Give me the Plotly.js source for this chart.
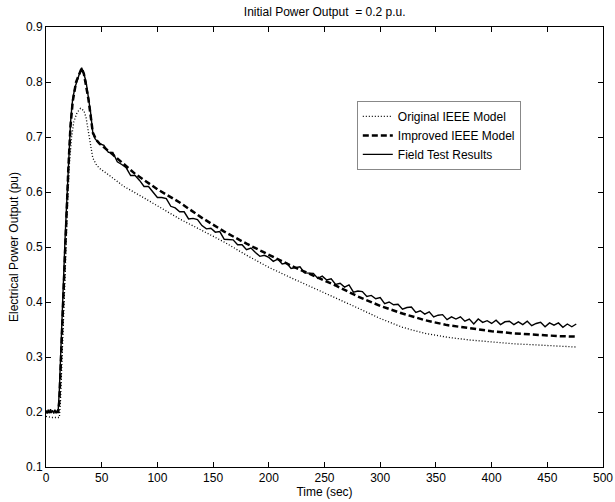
<!DOCTYPE html>
<html>
<head>
<meta charset="utf-8">
<script src="https://cdn.plot.ly/plotly-3.0.1.min.js"></script>
<style>html,body{margin:0;padding:0;background:#fff;}#chart{width:615px;height:502px;}</style>
</head>
<body>
<div id="chart"></div>
<script>
// Field test results (noisy measured trace)
const fieldTime = [0,1,2,3,4,5,6,7,8,9,10,11,12,13,14,15,16,17,18,19,20,21,22,23,24,26,28,30,32,34,36,38,40,42,44,46,48,
  52,56,60,64,68,72,76,80,84,88,92,96,100,104,108,112,116,120,124,128,132,136,140,144,148,152,156,160,164,168,172,176,180,
  184,188,192,196,200,204,208,212,216,220,224,228,232,236,240,244,248,252,256,260,264,268,272,276,280,284,288,292,296,300,
  304,308,312,316,320,324,328,332,336,340,344,348,352,356,360,364,368,372,376,380,384,388,392,396,400,404,408,412,416,420,
  424,428,432,436,440,444,448,452,456,460,464,468,472,476];
const fieldPower = [0.203,0.197,0.204,0.198,0.205,0.199,0.203,0.197,0.204,0.198,0.202,0.205,0.24,0.30,0.36,0.41,0.46,0.51,0.555,0.60,0.65,0.69,0.725,0.75,0.77,0.79,0.805,0.815,0.826,0.815,0.80,0.775,0.745,0.708,0.697,0.692,0.688,
  0.685,0.672,0.672,0.655,0.650,0.644,0.630,0.630,0.621,0.610,0.610,0.599,0.590,0.590,0.588,0.574,0.571,0.564,0.564,0.551,0.552,0.550,0.539,0.533,0.534,0.527,0.528,0.514,0.513,0.513,0.504,0.504,0.495,
  0.498,0.490,0.483,0.485,0.481,0.474,0.478,0.469,0.471,0.461,0.463,0.464,0.453,0.453,0.452,0.443,0.447,0.440,0.442,0.432,0.434,0.427,0.431,0.418,0.420,0.419,0.410,0.412,0.406,0.408,
  0.397,0.400,0.395,0.396,0.387,0.390,0.391,0.381,0.384,0.378,0.382,0.373,0.376,0.377,0.368,0.373,0.369,0.373,0.365,0.369,0.360,0.369,0.363,0.366,0.361,0.367,0.359,0.364,0.365,0.359,
  0.364,0.359,0.365,0.357,0.361,0.363,0.355,0.362,0.358,0.362,0.354,0.360,0.355,0.360];

// Improved IEEE model
const improvedTime = [0,5,10,11,12,14,16,18,20,22,24,27,30,32,34,36,38,40,42,45,48,60,80,100,120,140,160,180,200,220,240,260,280,300,320,340,360,380,400,420,440,460,476];
const improvedPower = [0.200,0.200,0.200,0.200,0.22,0.33,0.45,0.54,0.64,0.72,0.765,0.80,0.815,0.825,0.815,0.795,0.77,0.74,0.708,0.695,0.688,0.668,0.633,0.605,0.581,0.553,0.528,0.506,0.486,0.466,0.448,0.430,0.410,0.393,0.379,0.367,0.358,0.352,0.347,0.343,0.340,0.338,0.337];

// Original IEEE model
const originalTime = [0,5,10,12,13,15,17,19,21,23,25,28,31,34,36,38,40,42,45,48,55,60,70,84,100,120,140,160,180,200,220,240,260,280,300,320,340,360,380,400,420,440,460,477];
const originalPower = [0.192,0.190,0.190,0.190,0.22,0.32,0.44,0.56,0.65,0.70,0.728,0.745,0.752,0.748,0.735,0.71,0.685,0.662,0.650,0.643,0.633,0.625,0.610,0.594,0.575,0.551,0.530,0.509,0.485,0.463,0.444,0.426,0.408,0.389,0.370,0.354,0.343,0.336,0.331,0.327,0.324,0.322,0.320,0.318];

const xTicks = [0,50,100,150,200,250,300,350,400,450,500];
const yTicks = [0.1,0.2,0.3,0.4,0.5,0.6,0.7,0.8,0.9];
const yTickText = ['0.1','0.2','0.3','0.4','0.5','0.6','0.7','0.8','0.9'];

const traces = [
  {x: originalTime, y: originalPower, mode: 'lines', name: 'Original IEEE Model',
   line: {color: '#000', width: 1.3, dash: '1px,2px'}},
  {x: improvedTime, y: improvedPower, mode: 'lines', name: 'Improved IEEE Model',
   line: {color: '#000', width: 2.5, dash: '6px,3px'}},
  {x: fieldTime, y: fieldPower, mode: 'lines', name: 'Field Test Results',
   line: {color: '#000', width: 1.4}}
];

const axisCommon = {
  showline: true, linecolor: '#000', linewidth: 1, mirror: 'ticks',
  ticks: 'inside', ticklen: 5, tickcolor: '#000', showgrid: false, zeroline: false,
  tickfont: {family: 'Liberation Sans, Arial, sans-serif', size: 12, color: '#000'}
};

const layout = {
  width: 615, height: 502,
  margin: {l: 46, r: 12, t: 27, b: 35, pad: 0},
  paper_bgcolor: '#fff', plot_bgcolor: '#fff',
  font: {family: 'Liberation Sans, Arial, sans-serif', size: 12, color: '#000'},
  title: {text: 'Initial Power Output  = 0.2 p.u.', x: 0.528, xanchor: 'center', y: 0.984, yanchor: 'top',
          font: {family: 'Liberation Sans, Arial, sans-serif', size: 12, color: '#000'}},
  xaxis: Object.assign({}, axisCommon, {range: [0, 500], tickvals: xTicks, ticktext: xTicks.map(String),
          title: {text: 'Time (sec)', standoff: 2, font: {size: 12}}}),
  yaxis: Object.assign({}, axisCommon, {range: [0.1, 0.9], tickvals: yTicks, ticktext: yTickText,
          title: {text: 'Electrical Power Output (pu)', standoff: 4, font: {size: 12}}}),
  showlegend: true,
  legend: {x: 0.558, y: 0.832, xanchor: 'left', yanchor: 'top', bgcolor: '#fff',
           bordercolor: '#888', borderwidth: 1, tracegroupgap: 0,
           font: {family: 'Liberation Sans, Arial, sans-serif', size: 12, color: '#000'}}
};

Plotly.newPlot('chart', traces, layout, {displayModeBar: false, staticPlot: true});
</script>
</body>
</html>
